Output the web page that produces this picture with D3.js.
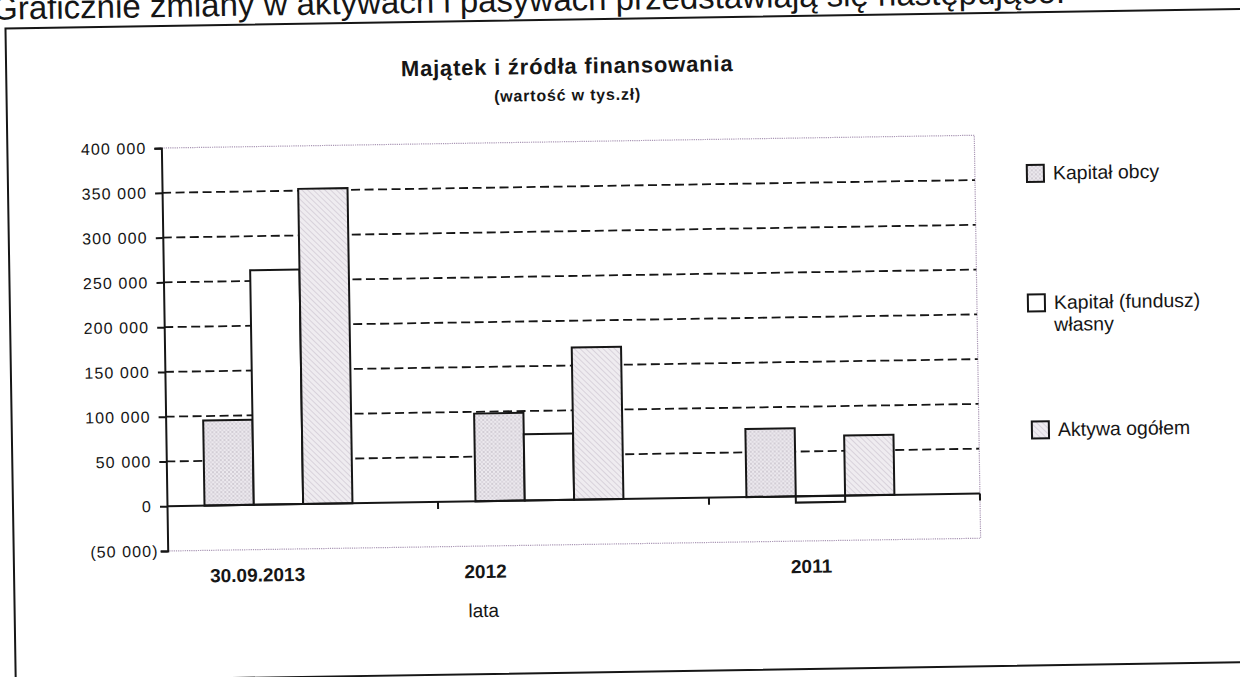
<!DOCTYPE html>
<html><head><meta charset="utf-8">
<script src="https://cdn.jsdelivr.net/npm/d3@7"></script>
<style>
html,body{margin:0;padding:0;background:#fff;}
svg{display:block;font-family:"Liberation Sans",Arial,sans-serif;}
</style>
</head><body>
<svg id="c" width="1240" height="677"></svg>
<script>
// ---------- data ----------
const categories = ["30.09.2013", "2012", "2011"];
const seriesNames = ["Kapitał obcy", "Kapitał (fundusz) własny", "Aktywa ogółem"];
const kapitalObcy = [95000, 98000, 76000];
const kapitalWlasny = [262000, 74000, -7000];
const aktywaOgolem = [352000, 170000, 67000];
const yTicks = [-50000, 0, 50000, 100000, 150000, 200000, 250000, 300000, 350000, 400000];
const headerText = "Graficznie zmiany w aktywach i pasywach przedstawiają się następująco:";
const titleText = "Majątek i źródła finansowania";
const subtitleText = "(wartość w tys.zł)";
const xAxisTitle = "lata";

// ---------- layout ----------
const svg = d3.select("#c");
const defs = svg.append("defs");
const plotL = 167, plotR = 980, plotT = 148, plotB = 551;
const ink = "#161616";

// patterns
const pDots = defs.append("pattern").attr("id", "dots").attr("patternUnits", "userSpaceOnUse")
  .attr("width", 4).attr("height", 4);
pDots.append("rect").attr("width", 4).attr("height", 4).attr("fill", "#ece9ee");
pDots.append("circle").attr("cx", 1).attr("cy", 1).attr("r", 0.7).attr("fill", "#a59dab");
pDots.append("circle").attr("cx", 3).attr("cy", 3).attr("r", 0.7).attr("fill", "#bdb6c2");
const pHatch = defs.append("pattern").attr("id", "hatch").attr("patternUnits", "userSpaceOnUse")
  .attr("width", 4).attr("height", 4).attr("patternTransform", "rotate(-45)");
pHatch.append("rect").attr("width", 4).attr("height", 4).attr("fill", "#efecf0");
pHatch.append("line").attr("x1", 0).attr("y1", 0).attr("x2", 0).attr("y2", 4)
  .attr("stroke", "#c1b9c6").attr("stroke-width", 1);
const fills = ["url(#dots)", "#ffffff", "url(#hatch)"];

const g = svg.append("g").attr("transform", "rotate(-0.9," + plotL + ",506)");

// outer frame
g.append("path").attr("d", "M1300,26 L13,26 L13,679 L1300,679")
  .attr("fill", "none").attr("stroke", ink).attr("stroke-width", 2);

// header text (partly cut by the top edge, as in the scan)
g.append("text").attr("x", 0).attr("y", 17).attr("font-size", 33).attr("fill", ink)
  .text(headerText);

// titles
g.append("text").attr("x", 574).attr("y", 80).attr("text-anchor", "middle")
  .attr("font-size", 22).attr("letter-spacing", 0.8).attr("font-weight", "bold").attr("fill", ink).text(titleText);
g.append("text").attr("x", 574).attr("y", 107).attr("text-anchor", "middle")
  .attr("font-size", 16).attr("letter-spacing", 0.8).attr("font-weight", "bold").attr("fill", ink).text(subtitleText);

// scales
const y = d3.scaleLinear().domain([d3.min(yTicks), d3.max(yTicks)]).range([plotB, plotT]);
const step = (plotR - plotL) / categories.length;
const groupShift = -24;
const x0 = d3.scaleBand().domain(categories).range([plotL + groupShift, plotR + groupShift])
  .paddingInner(0.454).paddingOuter(0.227);
const x1 = d3.scaleBand().domain(seriesNames).range([0, x0.bandwidth()]).padding(0);

// plot area dotted border
g.append("path")
  .attr("d", `M${plotL},${y(400000)} H${plotR} V${y(-50000)} H${plotL}`)
  .attr("fill", "none").attr("stroke", "#a996b4").attr("stroke-width", 1.2)
  .attr("stroke-dasharray", "1.2,1");

// dashed gridlines
g.append("g").selectAll("line")
  .data(yTicks.filter(v => v > 0 && v < 400000))
  .join("line")
  .attr("x1", plotL).attr("x2", plotR)
  .attr("y1", d => y(d)).attr("y2", d => y(d))
  .attr("stroke", ink).attr("stroke-width", 1.8).attr("stroke-dasharray", "9,4.5");

// bars
const rows = categories.map((c, i) => ({
  cat: c,
  vals: [kapitalObcy[i], kapitalWlasny[i], aktywaOgolem[i]]
}));
const grp = g.append("g").selectAll("g").data(rows).join("g")
  .attr("transform", d => `translate(${x0(d.cat)},0)`);
grp.selectAll("rect")
  .data(d => d.vals.map((v, k) => ({ v, k })))
  .join("rect")
  .attr("x", d => x1(seriesNames[d.k]))
  .attr("width", x1.bandwidth())
  .attr("y", d => y(Math.max(0, d.v)))
  .attr("height", d => Math.abs(y(d.v) - y(0)))
  .attr("fill", d => fills[d.k])
  .attr("stroke", ink).attr("stroke-width", 2);

// category axis (zero line)
g.append("line").attr("x1", plotL).attr("x2", plotR).attr("y1", y(0)).attr("y2", y(0))
  .attr("stroke", ink).attr("stroke-width", 2);
g.append("g").selectAll("line").data(d3.range(1, categories.length + 1))
  .join("line")
  .attr("x1", i => plotL + i * step).attr("x2", i => plotL + i * step)
  .attr("y1", y(0)).attr("y2", y(0) + 7)
  .attr("stroke", ink).attr("stroke-width", 2);

// y axis
const fmt = v => {
  const s = d3.format(",")(Math.abs(v)).replace(/,/g, " ");
  return v < 0 ? "(" + s + ")" : s;
};
const yAxis = d3.axisLeft(y).tickValues(yTicks).tickSize(7).tickPadding(8).tickFormat(fmt);
const ya = g.append("g").attr("transform", `translate(${plotL},0)`).call(yAxis);
ya.select(".domain").attr("stroke", ink).attr("stroke-width", 2);
ya.selectAll(".tick line").attr("stroke", ink).attr("stroke-width", 2);
ya.selectAll(".tick text")
  .attr("font-size", 16).attr("letter-spacing", 1.1).attr("fill", ink)
  .attr("font-family", "Liberation Sans, Arial, sans-serif")
  .attr("dx", d => d < 0 ? 6 : 0);

// category labels
const labelNudge = [-22, -65, -10];
g.append("g").selectAll("text").data(categories).join("text")
  .attr("x", (d, i) => x0(d) + x0.bandwidth() / 2 + labelNudge[i])
  .attr("y", 583).attr("text-anchor", "middle")
  .attr("font-size", 19).attr("font-weight", "bold").attr("fill", ink)
  .text(d => d);
g.append("text").attr("x", 482).attr("y", 622).attr("text-anchor", "middle")
  .attr("font-size", 19).attr("fill", ink).text(xAxisTitle);

// legend
const legendY = [187, 316.5, 443.6];
const legendX = [1032, 1031, 1033];
const leg = g.append("g").selectAll("g").data(seriesNames).join("g")
  .attr("transform", (d, i) => `translate(${legendX[i]},${legendY[i]})`);
leg.append("rect").attr("x", 0).attr("y", -8.5).attr("width", 17).attr("height", 17)
  .attr("fill", (d, i) => fills[i]).attr("stroke", ink).attr("stroke-width", 2);
leg.each(function (d, i) {
  const t = d3.select(this).append("text").attr("x", 26).attr("y", 6.5)
    .attr("font-size", 19.5).attr("fill", ink);
  if (i === 1) {
    t.append("tspan").attr("x", 26).attr("dy", 0).text("Kapitał (fundusz)");
    t.append("tspan").attr("x", 26).attr("dy", 22).text("własny");
  } else {
    t.text(d);
  }
});
</script>
</body></html>
